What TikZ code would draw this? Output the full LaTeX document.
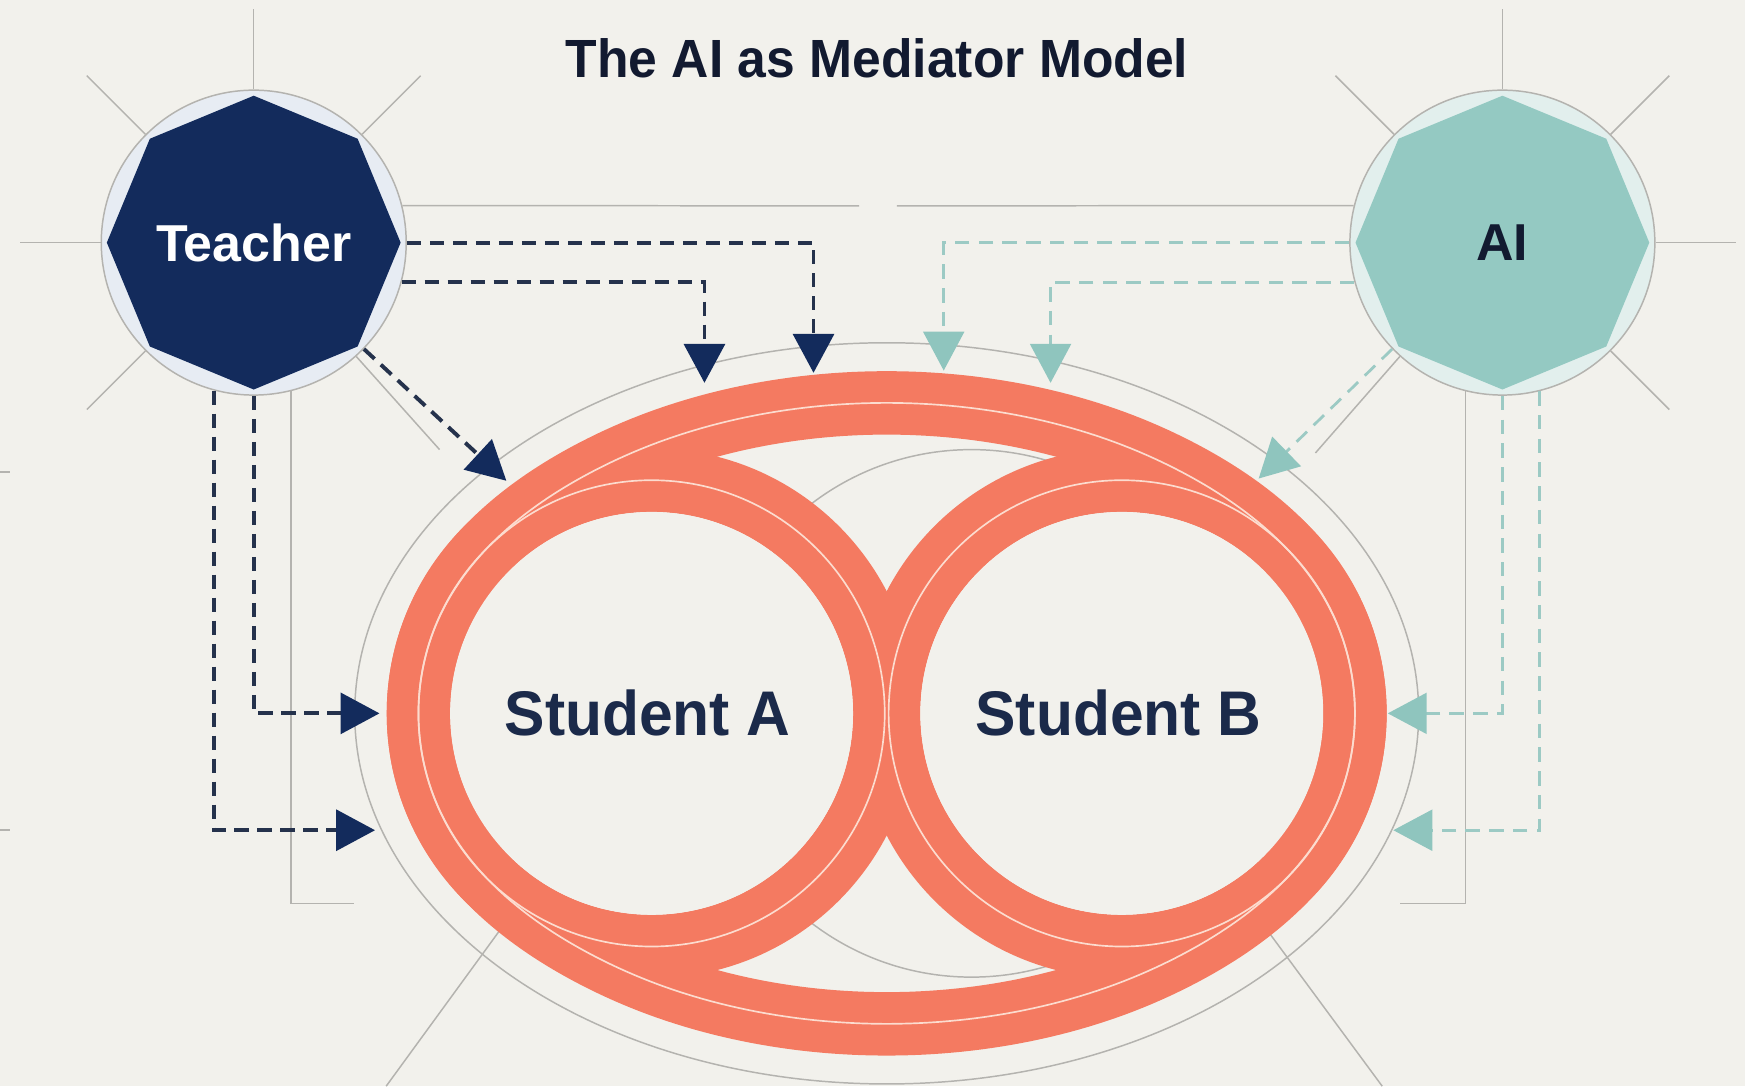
\documentclass[tikz,border=0pt]{standalone}
\usepackage{fontspec}
\usepackage{graphicx}
\setmainfont{Liberation Sans}
\usetikzlibrary{arrows.meta}
\definecolor{bgc}{HTML}{F2F1EC}
\definecolor{navyc}{HTML}{132B5C}
\definecolor{navyd}{HTML}{25324C}
\definecolor{tealc}{HTML}{8FC5BE}
\definecolor{teald}{HTML}{9CCAC4}
\definecolor{tealfill}{HTML}{94C9C2}
\definecolor{coral}{HTML}{F47A61}
\definecolor{glc}{HTML}{B4B3AF}
\definecolor{txtc}{HTML}{121A30}
\definecolor{stc}{HTML}{1B2A4A}
\definecolor{tlight}{HTML}{E7ECF3}
\definecolor{alight}{HTML}{E2EFED}
\definecolor{lane}{HTML}{FCDCCF}
\begin{document}
\begin{tikzpicture}[x=0.3pt,y=-0.3pt,
 gl/.style={draw=glc, line width=0.4pt},
 hubc/.style={circle, draw=glc, line width=0.4pt, minimum size=82.2pt, inner sep=0pt},
 lbl/.style={font=\fontsize{14pt}{16pt}\selectfont\bfseries, inner sep=0pt},
 stud/.style={font=\fontsize{17pt}{20pt}\selectfont\bfseries, text=stc, inner sep=0pt},
 band/.style={draw=coral, line width=17.1pt, line join=round},
 laneline/.style={draw=lane, line width=0.45pt},
 tarr/.style={draw=navyd, line width=1.05pt, dash pattern=on 3.9pt off 2.3pt, -{Triangle[length=10.5pt,width=11pt,color=navyc]}},
 aarr/.style={draw=teald, line width=0.75pt, dash pattern=on 3.9pt off 2.5pt, -{Triangle[length=10.5pt,width=11pt,color=tealc]}},
]
\fill[bgc] (0,0) rectangle (1568,976);
\useasboundingbox (0,0) rectangle (1568,976);

% title
\node[font=\fontsize{14.5pt}{17pt}\selectfont\bfseries, text=txtc, anchor=base, inner sep=0pt] (title) at (788,70) {\scalebox{0.96}[1]{The AI as Mediator Model}};

% hubs
\node[hubc, fill=tlight] (tc) at (228,218) {};
\node[hubc, fill=alight] (ac) at (1350,218) {};
\fill[navyc] (tc.center) +(0:132) -- +(45:132) -- +(90:132) -- +(135:132) -- +(180:132) -- +(225:132) -- +(270:132) -- +(315:132) -- cycle;
\fill[tealfill] (ac.center) +(0:132) -- +(45:132) -- +(90:132) -- +(135:132) -- +(180:132) -- +(225:132) -- +(270:132) -- +(315:132) -- cycle;
\node[lbl, text=white] (tt) at (tc.center) {Teacher};
\node[lbl, text=txtc] (ait) at (ac.center) {AI};

% construction lines around Teacher
\draw[gl] (tc.north) -- (228,8);
\draw[gl] (tc.135) -- (78,68);
\draw[gl] (tc.45) -- (378,68);
\draw[gl] (tc.west) -- (18,218);
\draw[gl] (tc.225) -- (78,368);
\draw[gl] (tc.-48) -- (395,404);
\draw[gl] (tc.14) -- (772,185);
\draw[gl] (tc.-76) |- (318,812);
% construction lines around AI
\draw[gl] (ac.north) -- (1350,8);
\draw[gl] (ac.45) -- (1500,68);
\draw[gl] (ac.135) -- (1200,68);
\draw[gl] (ac.east) -- (1560,218);
\draw[gl] (ac.-45) -- (1500,368);
\draw[gl] (ac.-132) -- (1182,407);
\draw[gl] (ac.166) -- (806,185);
\draw[gl] (ac.-104) |- (1258,812);
% edge stubs
\draw[gl] (0,424) -- (9,424);
\draw[gl] (0,746) -- (9,746);
% outer guide ellipse and inner arc
\draw[gl] (796.75,641) ellipse [x radius=478, y radius=333];
\draw[gl] (873,641) circle [radius=237];
\draw[gl] (460,821) -- (347,976);
\draw[gl] (1127,820) -- (1242,976);

% coral rings
\draw[band] plot[domain=-125:-55, samples=60] ({796.75+421*cos(\x)},{641+279*sin(\x)})
  .. controls (1116.24,448.65) and (1188.10,503.71) .. (1210.36,586.78)
  -- plot[domain=-15:15, samples=20] ({1008+209.5*cos(\x)},{641+209.5*sin(\x)})
  .. controls (1188.10,778.29) and (1116.24,833.35) .. (1038.23,869.54)
  -- plot[domain=55:125, samples=60] ({796.75+421*cos(\x)},{641+279*sin(\x)})
  .. controls (477.26,833.35) and (405.40,778.29) .. (383.14,695.22)
  -- plot[domain=165:195, samples=20] ({585.5+209.5*cos(\x)},{641+209.5*sin(\x)})
  .. controls (405.40,503.71) and (477.26,448.65) .. (555.26,412.46) -- cycle;
\draw[band] (585.5,641) circle [radius=209.5];
\draw[band] (1008,641) circle [radius=209.5];
\draw[laneline] plot[domain=-125:-55, samples=60] ({796.75+421*cos(\x)},{641+279*sin(\x)})
  .. controls (1116.24,448.65) and (1188.10,503.71) .. (1210.36,586.78)
  -- plot[domain=-15:15, samples=20] ({1008+209.5*cos(\x)},{641+209.5*sin(\x)})
  .. controls (1188.10,778.29) and (1116.24,833.35) .. (1038.23,869.54)
  -- plot[domain=55:125, samples=60] ({796.75+421*cos(\x)},{641+279*sin(\x)})
  .. controls (477.26,833.35) and (405.40,778.29) .. (383.14,695.22)
  -- plot[domain=165:195, samples=20] ({585.5+209.5*cos(\x)},{641+209.5*sin(\x)})
  .. controls (405.40,503.71) and (477.26,448.65) .. (555.26,412.46) -- cycle;
\draw[laneline] (585.5,641) circle [radius=209.5];
\draw[laneline] (1008,641) circle [radius=209.5];

% holes
\fill[bgc] (585.5,641) circle [radius=181];
\fill[bgc] (1008,641) circle [radius=181];

\node[stud] (sa) at (582,641) {\scalebox{0.96}[1]{Student A}};
\node[stud] (sb) at (1005,641) {\scalebox{0.96}[1]{Student B}};

% arrow tips
\coordinate (tT1) at (731,335);
\coordinate (tT2) at (633,344);
\coordinate (tT3) at (455,432);
\coordinate (tT4) at (341,641);
\coordinate (tT5) at (337,746);
\coordinate (tA1) at (848,333);
\coordinate (tA2) at (944,344);
\coordinate (tA3) at (1131,430);
\coordinate (tA4) at (1247,641);
\coordinate (tA5) at (1252,746);

% teacher arrows
\draw[tarr] (tc.east) -| (tT1);
\draw[tarr] (tc.-15) -| (tT2);
\draw[tarr] (tc.-44) -- (tT3);
\draw[tarr] (tc.south) |- (tT4);
\draw[tarr] (tc.-105) |- (tT5);
% AI arrows
\draw[aarr] (ac.west) -| (tA1);
\draw[aarr] (ac.195) -| (tA2);
\draw[aarr] (ac.-136) -- (tA3);
\draw[aarr] (ac.south) |- (tA4);
\draw[aarr] (ac.-76) |- (tA5);
\end{tikzpicture}
\end{document}
